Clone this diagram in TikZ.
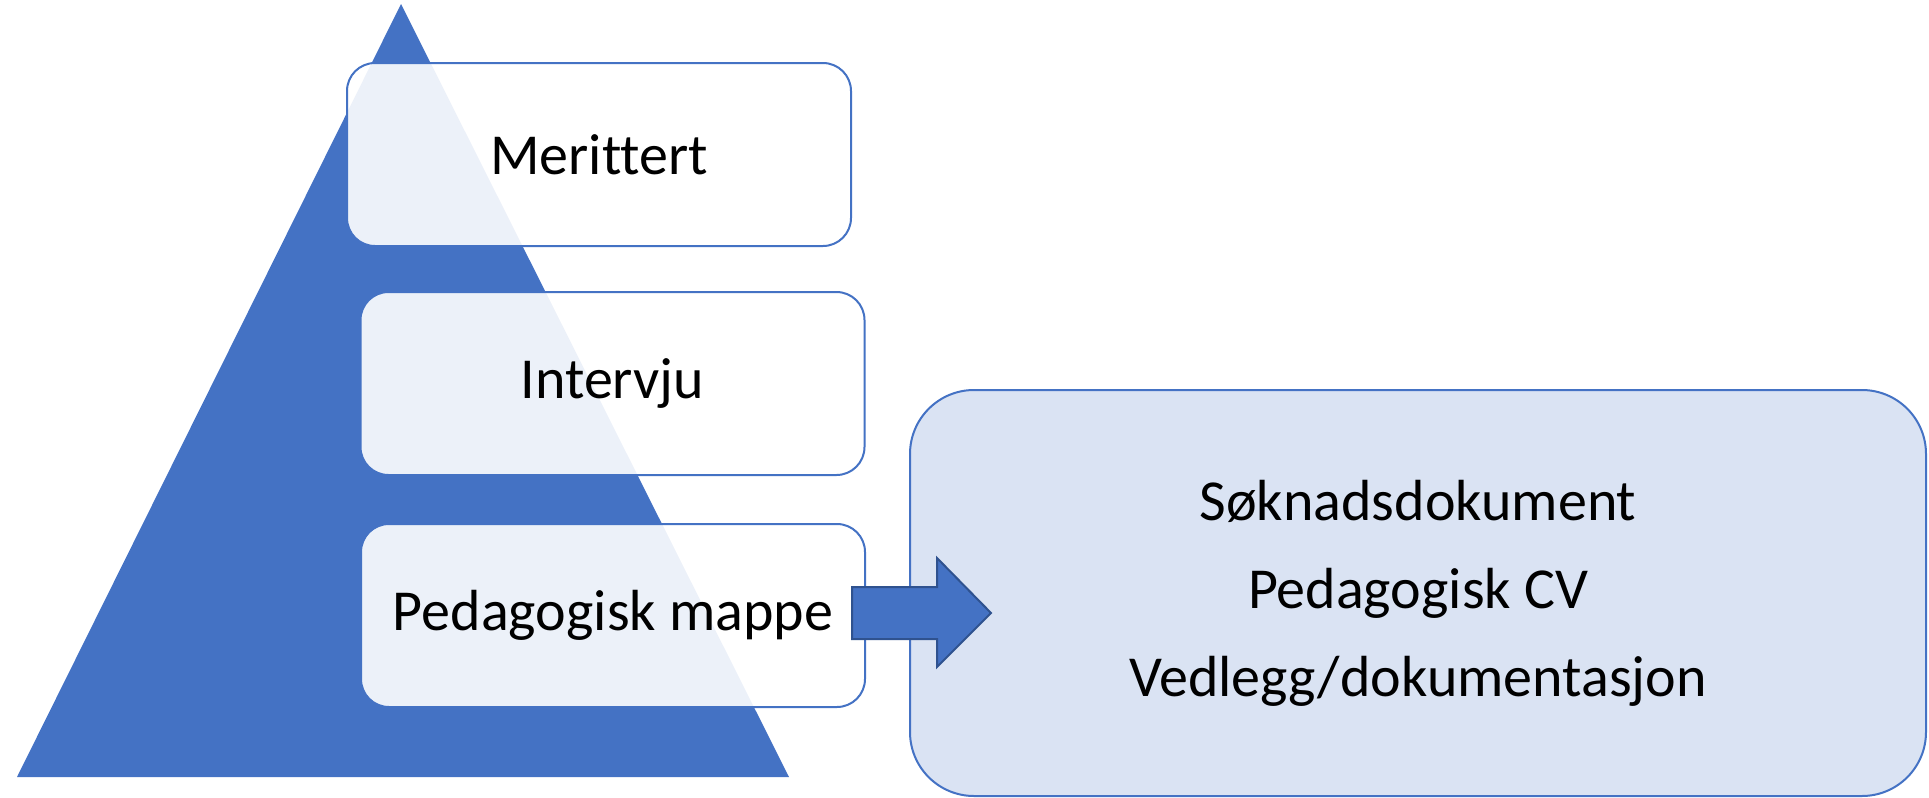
\documentclass[tikz,border=0pt]{standalone}
\usepackage{fontspec}
\setmainfont[RawFeature=-liga]{Carlito}
\usetikzlibrary{positioning}
\definecolor{pyrblue}{HTML}{4472C4}
\definecolor{pyrdark}{HTML}{2F528F}
\definecolor{docfill}{HTML}{DAE3F3}

\begin{document}
\begin{tikzpicture}[x=0.5pt, y=-0.5pt,
  level/.style={draw=pyrblue, line width=1pt, fill=white, fill opacity=0.9, text opacity=1,
    rounded corners=14pt, minimum width=252pt, minimum height=91.5pt, inner sep=0pt,
    font=\fontsize{29}{44}\selectfont},
  docs/.style={draw=pyrblue, line width=1pt, fill=docfill, rounded corners=32pt,
    minimum width=508pt, minimum height=203pt, inner sep=0pt, align=center,
    font=\fontsize{29}{44}\selectfont}]

  \useasboundingbox (0,0) rectangle (1929,798);

  % Pyramid
  \fill[pyrblue] (401,4) -- (789,777) -- (17,777) -- cycle;

  % Levels
  \node[level] (merittert) at (599,154.5) {Merittert};
  \node[level] (intervju) at (612.5,383.5) {Intervju};
  \node[level] (mappe) at (613,615.5) {Pedagogisk mappe};

  % What goes in the folder
  \node[docs] (innhold) at (1418,593) {Søknadsdokument\\Pedagogisk CV\\Vedlegg/dokumentasjon};

  % Block arrow
  \coordinate (tail) at (852,613);
  \draw[pyrdark, line width=1pt, fill=pyrblue, line join=miter]
    (tail) ++(0,-26) -- ++(85,0) -- ++(0,-29) -- ++(54,55) -- ++(-54,54) -- ++(0,-28) -- ++(-85,0) -- cycle;

\end{tikzpicture}
\end{document}
